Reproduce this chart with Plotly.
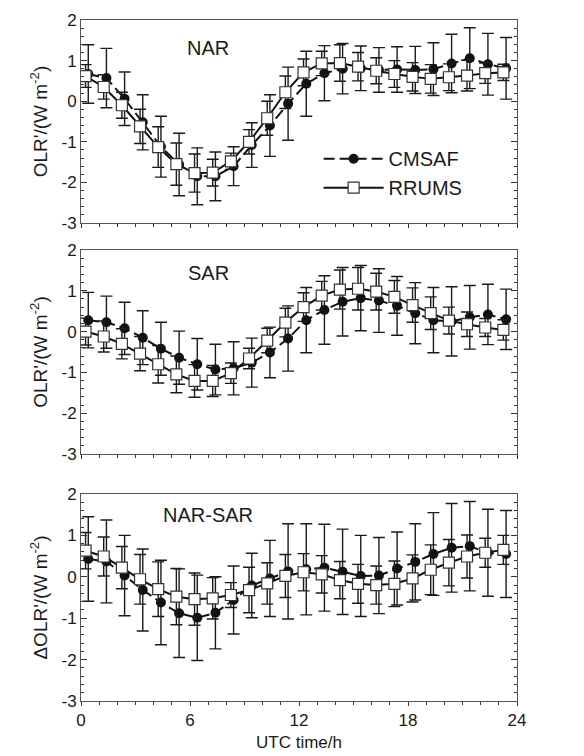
import plotly.graph_objects as go

# ---------------- data ----------------
cmsaf_time = [0.4, 1.4, 2.4, 3.4, 4.4, 5.4, 6.4, 7.4, 8.4, 9.4, 10.4, 11.4,
              12.4, 13.4, 14.4, 15.4, 16.4, 17.4, 18.4, 19.4, 20.4, 21.4, 22.4, 23.4]
rrums_time = [0.25, 1.25, 2.25, 3.25, 4.25, 5.25, 6.25, 7.25, 8.25, 9.25, 10.25, 11.25,
              12.25, 13.25, 14.25, 15.25, 16.25, 17.25, 18.25, 19.25, 20.25, 21.25, 22.25, 23.25]

nar_cmsaf = [0.67, 0.57, 0.06, -0.52, -1.12, -1.56, -1.85, -1.85, -1.6, -1.08, -0.6, -0.06,
             0.43, 0.69, 0.8, 0.81, 0.77, 0.78, 0.77, 0.79, 0.93, 1.06, 0.91, 0.81]
nar_cmsaf_err = [0.72, 0.73, 0.66, 0.68, 0.75, 0.77, 0.7, 0.6, 0.48, 0.55, 0.76, 0.9,
                 0.8, 0.68, 0.62, 0.55, 0.55, 0.56, 0.58, 0.65, 0.72, 0.75, 0.76, 0.76]
nar_rrums = [0.62, 0.35, -0.1, -0.62, -1.13, -1.55, -1.77, -1.76, -1.48, -1.0, -0.42, 0.22,
             0.71, 0.93, 0.94, 0.85, 0.75, 0.67, 0.6, 0.55, 0.59, 0.63, 0.69, 0.71]
nar_rrums_err = [0.28, 0.3, 0.32, 0.42, 0.5, 0.52, 0.47, 0.33, 0.2, 0.3, 0.42, 0.4,
                 0.33, 0.3, 0.45, 0.35, 0.32, 0.33, 0.35, 0.35, 0.33, 0.38, 0.25, 0.2]

sar_cmsaf = [0.28, 0.23, 0.08, -0.15, -0.42, -0.64, -0.8, -0.93, -0.9, -0.76, -0.51, -0.17,
             0.28, 0.53, 0.73, 0.82, 0.76, 0.63, 0.45, 0.28, 0.25, 0.35, 0.42, 0.3]
sar_cmsaf_err = [0.68, 0.64, 0.64, 0.66, 0.65, 0.65, 0.63, 0.62, 0.65, 0.6, 0.62, 0.8,
                 0.8, 0.84, 0.84, 0.8, 0.78, 0.72, 0.75, 0.8, 0.85, 0.78, 0.74, 0.74]
sar_rrums = [0.0, -0.12, -0.3, -0.54, -0.8, -1.05, -1.21, -1.21, -1.02, -0.66, -0.22, 0.22,
             0.6, 0.88, 1.03, 1.05, 0.98, 0.85, 0.65, 0.45, 0.27, 0.18, 0.1, 0.04]
sar_rrums_err = [0.33, 0.38, 0.37, 0.42, 0.46, 0.45, 0.4, 0.38, 0.25, 0.25, 0.3, 0.35,
                 0.35, 0.35, 0.48, 0.52, 0.45, 0.4, 0.42, 0.4, 0.33, 0.3, 0.22, 0.25]

diff_cmsaf = [0.43, 0.37, 0.03, -0.32, -0.62, -0.88, -0.99, -0.87, -0.56, -0.21, -0.04, 0.13,
              0.18, 0.22, 0.12, 0.02, 0.03, 0.2, 0.36, 0.55, 0.7, 0.74, 0.58, 0.55]
diff_cmsaf_err = [1.02, 1.0, 0.97, 0.99, 1.02, 1.07, 1.03, 0.87, 0.82, 0.78, 0.92, 1.15,
                  1.1, 1.05, 1.03, 0.98, 0.92, 0.88, 0.92, 1.0, 1.07, 1.08, 1.05, 1.05]
diff_rrums = [0.63, 0.49, 0.22, -0.06, -0.3, -0.48, -0.54, -0.52, -0.44, -0.32, -0.16, 0.02,
              0.11, 0.06, -0.08, -0.17, -0.2, -0.17, -0.04, 0.17, 0.34, 0.49, 0.58, 0.65]
diff_rrums_err = [0.44, 0.47, 0.51, 0.6, 0.66, 0.68, 0.63, 0.5, 0.3, 0.55, 0.5, 0.52,
                  0.45, 0.45, 0.45, 0.47, 0.46, 0.55, 0.57, 0.6, 0.56, 0.52, 0.35, 0.35]

panel_titles = ["NAR", "SAR", "NAR-SAR"]
y_titles = ["OLR'/(W m<sup>-2</sup>)", "OLR'/(W m<sup>-2</sup>)", "\u0394OLR'/(W m<sup>-2</sup>)"]
y_tickvals = [-3, -2, -1, 0, 1, 2]
y_ticktext = ["-3", "-2", "-1", "0", "1", "2"]
x_tickvals = [0, 6, 12, 18, 24]
x_ticktext = ["0", "6", "12", "18", "24"]
series_names = ["CMSAF", "RRUMS"]

panels = [
    (nar_cmsaf, nar_cmsaf_err, nar_rrums, nar_rrums_err),
    (sar_cmsaf, sar_cmsaf_err, sar_rrums, sar_rrums_err),
    (diff_cmsaf, diff_cmsaf_err, diff_rrums, diff_rrums_err),
]

FONT = "Liberation Sans, Arial, sans-serif"
domains = [[0.7019, 1.0], [0.3627, 0.6623], [0.0, 0.3040]]
title_y = [0.86, 0.885, 0.9]

fig = go.Figure()
for k, (c, ce, r, re_) in enumerate(panels):
    xa = "x" if k == 0 else f"x{k+1}"
    ya = "y" if k == 0 else f"y{k+1}"
    fig.add_trace(go.Scatter(
        x=cmsaf_time, y=c, name=series_names[0], xaxis=xa, yaxis=ya,
        mode="lines+markers", showlegend=(k == 0),
        line=dict(color="#111111", width=2, dash="11px,5px"),
        marker=dict(symbol="circle", size=10, color="#111111"),
        error_y=dict(type="data", array=ce, color="#1a1a1a", thickness=1.4, width=6),
    ))
    fig.add_trace(go.Scatter(
        x=rrums_time, y=r, name=series_names[1], xaxis=xa, yaxis=ya,
        mode="lines+markers", showlegend=(k == 0),
        line=dict(color="#111111", width=2),
        marker=dict(symbol="square", size=11, color="white",
                    line=dict(color="#333333", width=1.2)),
        error_y=dict(type="data", array=re_, color="#1a1a1a", thickness=1.4, width=6),
    ))

layout = dict(
    width=584, height=756,
    margin=dict(l=73, r=75, t=12, b=63),
    paper_bgcolor="white", plot_bgcolor="white",
    font=dict(family=FONT, color="#1a1a1a", size=16),
    legend=dict(x=0.545, y=0.825, xanchor="left", yanchor="top",
                font=dict(size=20, family=FONT), bgcolor="rgba(0,0,0,0)",
                itemwidth=60, tracegroupgap=0),
    annotations=[],
)

for k in range(3):
    sfx = "" if k == 0 else str(k + 1)
    ya = "y" + sfx
    xa = "x" + sfx
    layout["xaxis" + sfx] = dict(
        domain=[0, 1], anchor=ya, range=[0, 24], automargin=False,
        showline=True, linecolor="#555555", linewidth=1, mirror=True,
        ticks="outside", ticklen=4, tickwidth=1, tickcolor="#333333",
        tickvals=x_tickvals, ticktext=x_ticktext, showticklabels=(k == 2),
        minor=dict(dtick=1, ticklen=3, tickwidth=1, tickcolor="#333333", ticks="outside"),
        showgrid=False, zeroline=False,
        tickfont=dict(size=17),
        title=dict(text="UTC time/h", font=dict(size=17), standoff=6) if k == 2 else None,
    )
    layout["yaxis" + sfx] = dict(
        domain=domains[k], anchor=xa, range=[-3, 2], automargin=False,
        showline=True, linecolor="#555555", linewidth=1, mirror="ticks",
        ticks="inside", ticklen=6, tickwidth=1, tickcolor="#333333",
        tickvals=y_tickvals, ticktext=y_ticktext,
        minor=dict(dtick=0.2, ticklen=3, tickwidth=1, tickcolor="#333333", ticks="inside"),
        showgrid=False, zeroline=False,
        tickfont=dict(size=17),
        title=dict(text=y_titles[k], font=dict(size=19), standoff=8),
    )
    # top mirror axis with inward ticks
    layout["xaxis" + str(k + 4)] = dict(
        overlaying=xa, anchor=ya, side="top", range=[0, 24], automargin=False,
        showline=False, ticks="inside", ticklen=6, tickwidth=1, tickcolor="#333333",
        tickvals=x_tickvals, showticklabels=False,
        minor=dict(dtick=1, ticklen=3, tickwidth=1, tickcolor="#333333", ticks="inside"),
        showgrid=False, zeroline=False,
    )
    layout["annotations"].append(dict(
        text=panel_titles[k], xref=xa + " domain", yref=ya + " domain",
        x=0.292, y=title_y[k], xanchor="center", yanchor="middle", showarrow=False,
        font=dict(size=20, family=FONT, color="#1a1a1a"),
    ))

fig.update_layout(**layout)
fig.write_html("out.html")
